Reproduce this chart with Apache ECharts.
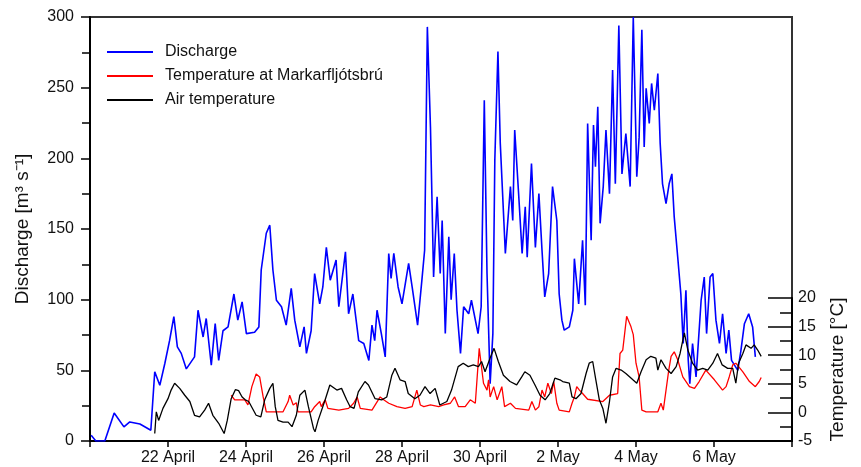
<!DOCTYPE html>
<html>
<head>
<meta charset="utf-8">
<script src="https://cdn.jsdelivr.net/npm/echarts@6/dist/echarts.min.js"></script>
<style>
  html, body { margin: 0; padding: 0; background: #fff; }
  #chart-container { width: 861px; height: 467px; }
</style>
</head>
<body>
<div id="chart-container"></div>
<script>
var dom = document.getElementById("chart-container");
var myChart = echarts.init(dom, null, { renderer: "canvas" });

// x values are days since 20 April 00:00
var dateLabels = ["", "22 April", "24 April", "26 April", "28 April", "30 April", "2 May", "4 May", "6 May", ""];

var qDays = [0.03, 0.15, 0.38, 0.62, 0.87, 1.02, 1.28, 1.56, 1.66, 1.79, 1.92, 2.04, 2.15, 2.24, 2.34, 2.47, 2.68, 2.77, 2.90, 2.98,
  3.11, 3.21, 3.30, 3.41, 3.54, 3.69, 3.79, 3.90, 4.01, 4.22, 4.33, 4.39, 4.52, 4.61, 4.69, 4.78, 4.91, 5.03, 5.16, 5.25,
  5.38, 5.49, 5.55, 5.67, 5.76, 5.89, 5.97, 6.06, 6.16, 6.31, 6.38, 6.55, 6.63, 6.74, 6.89, 7.02, 7.15, 7.23, 7.30, 7.36,
  7.47, 7.57, 7.66, 7.72, 7.79, 7.90, 8.00, 8.17, 8.26, 8.40, 8.51, 8.58, 8.65, 8.73, 8.81, 8.90, 8.98, 9.03, 9.11, 9.20,
  9.26, 9.34, 9.41, 9.50, 9.58, 9.71, 9.78, 9.95, 10.03, 10.11, 10.18, 10.26, 10.33, 10.38, 10.46, 10.52, 10.65, 10.78, 10.84, 10.89,
  10.99, 11.08, 11.16, 11.21, 11.32, 11.42, 11.51, 11.59, 11.66, 11.76, 11.86, 11.97, 12.03, 12.10, 12.16, 12.29, 12.38, 12.42, 12.53, 12.63,
  12.70, 12.76, 12.85, 12.91, 12.96, 13.02, 13.08, 13.16, 13.23, 13.32, 13.40, 13.47, 13.56, 13.64, 13.74, 13.85, 13.93, 14.02, 14.08, 14.15,
  14.21, 14.26, 14.34, 14.40, 14.47, 14.56, 14.62, 14.68, 14.77, 14.85, 14.92, 14.98, 15.07, 15.15, 15.21, 15.28, 15.34, 15.38, 15.45, 15.54,
  15.67, 15.75, 15.81, 15.90, 15.97, 16.05, 16.14, 16.22, 16.31, 16.38, 16.45, 16.61, 16.69, 16.78, 16.89, 16.99, 17.06];
var qValues = [4, 0, 0, 19.8, 10, 13.5, 12, 7.6, 49, 39.4, 55, 71, 88, 66.6, 62, 51, 59.5, 92.5, 73.6, 86.7,
  53.6, 83, 57, 78, 80.7, 104, 85.5, 98.4, 76, 77, 80.7, 121, 147, 152.7, 121, 99.6, 95, 82, 108, 85.5,
  66.6, 80.7, 62, 78, 118.5, 97, 109, 137, 113.8, 128, 95, 133.8, 90, 104, 71, 69, 57, 82, 71, 92.5,
  76, 59.5, 132.7, 115, 132.7, 109, 97, 125.6, 109, 82, 113.8, 135, 293, 222, 116, 172.8, 118.5, 156, 76, 144.5,
  100, 132.7, 92.5, 62, 95, 90, 99.6, 76, 95, 241, 118.5, 40.6, 76, 198.8, 275.5, 210.6, 132.7, 180, 156, 220,
  175, 132.7, 165.7, 130, 196.4, 137, 175, 135, 102, 118.5, 180, 156, 104, 85.5, 78.4, 80.7, 92.5, 129, 97, 142,
  96, 224.7, 142, 223.5, 194, 236.5, 154, 180, 220, 175, 262.5, 182, 294, 189, 217.6, 180, 300, 187, 215, 291,
  208, 249.5, 224.7, 253, 234, 260, 210.6, 182, 168, 182, 189, 158.6, 130, 104, 69, 106.7, 57, 40.6, 69, 45.3,
  99.6, 116, 76, 116, 118.5, 85.5, 69, 90, 62, 78.4, 57, 50, 64, 83, 90, 80.7, 59.5];

var waterDays = [3.62, 3.71, 3.97, 4.05, 4.15, 4.26, 4.35, 4.44, 4.52, 4.95, 5.08, 5.12, 5.21, 5.29, 5.33, 5.67, 5.76, 5.89, 5.93, 6.03,
  6.10, 6.38, 6.63, 6.76, 6.85, 6.93, 7.23, 7.44, 7.53, 7.66, 7.87, 8.08, 8.26, 8.38, 8.47, 8.56, 8.73, 8.94, 9.07, 9.24,
  9.35, 9.45, 9.62, 9.75, 9.88, 9.98, 10.03, 10.09, 10.18, 10.22, 10.26, 10.35, 10.44, 10.56, 10.63, 10.78, 10.91, 11.25, 11.33, 11.42,
  11.51, 11.59, 11.66, 11.74, 11.83, 11.89, 11.97, 12.03, 12.29, 12.36, 12.42, 12.48, 12.55, 12.63, 12.76, 13.15, 13.32, 13.53, 13.59, 13.66,
  13.76, 13.81, 13.87, 13.93, 14.00, 14.08, 14.15, 14.26, 14.56, 14.64, 14.70, 14.77, 14.84, 14.90, 14.98, 15.07, 15.20, 15.37, 15.50, 15.62,
  15.79, 16.01, 16.22, 16.31, 16.39, 16.48, 16.56, 16.74, 16.91, 17.06, 17.16, 17.21];
var waterTemp = [3.0, 2.2, 2.2, 1.3, 4.5, 6.7, 6.2, 2.7, 0.1, 0.1, 1.9, 3.0, 1.3, 1.7, 0.1, 0.1, 1.0, 1.9, 1.0, 2.2,
  0.7, 0.4, 0.7, 1.6, 2.7, 0.7, 0.4, 2.7, 2.2, 1.6, 1.0, 0.7, 1.0, 3.9, 1.3, 1.0, 1.3, 1.0, 1.3, 1.6,
  2.7, 1.0, 1.0, 2.2, 1.6, 11.2, 10.9, 5.1, 3.9, 5.7, 2.7, 4.5, 2.2, 4.5, 1.0, 1.6, 0.7, 0.4, 1.9, 0.4,
  1.0, 3.9, 2.7, 5.1, 3.3, 5.4, 1.6, 0.4, 0.1, 1.6, 2.7, 4.5, 3.9, 3.3, 2.3, 1.9, 3.0, 3.3, 10.3, 10.9,
  16.8, 17.1, 15.0, 13.6, 8.6, 6.2, 0.4, 0.1, 0.1, 1.6, 0.4, 3.9, 7.4, 9.8, 10.6, 9.2, 6.2, 4.5, 4.2, 5.4,
  7.4, 5.7, 3.9, 4.5, 6.2, 8.3, 8.6, 7.1, 5.4, 4.5, 5.4, 6.1];

var airDays = [1.66, 1.70, 1.76, 1.87, 2.00, 2.08, 2.17, 2.30, 2.43, 2.56, 2.68, 2.81, 2.94, 3.04, 3.15, 3.30, 3.44, 3.52, 3.62, 3.73,
  3.81, 3.90, 3.98, 4.07, 4.26, 4.38, 4.48, 4.61, 4.69, 4.75, 4.82, 4.95, 5.08, 5.18, 5.29, 5.38, 5.51, 5.60, 5.73, 5.77,
  5.85, 6.03, 6.15, 6.33, 6.45, 6.58, 6.67, 6.77, 6.88, 7.05, 7.14, 7.31, 7.48, 7.61, 7.74, 7.82, 7.95, 8.08, 8.16, 8.33,
  8.46, 8.59, 8.72, 8.85, 8.97, 9.15, 9.27, 9.44, 9.57, 9.70, 9.83, 9.96, 10.04, 10.13, 10.26, 10.36, 10.47, 10.60, 10.77, 10.94,
  11.07, 11.15, 11.28, 11.41, 11.54, 11.67, 11.79, 11.92, 12.05, 12.12, 12.29, 12.36, 12.46, 12.59, 12.72, 12.80, 12.89, 12.97, 13.06, 13.15,
  13.23, 13.32, 13.40, 13.49, 13.62, 13.74, 13.92, 14.02, 14.13, 14.26, 14.38, 14.51, 14.56, 14.64, 14.77, 14.90, 15.03, 15.13, 15.24, 15.33,
  15.45, 15.58, 15.71, 15.84, 15.97, 16.09, 16.21, 16.35, 16.48, 16.56, 16.63, 16.74, 16.82, 16.95, 17.03, 17.12, 17.21];
var airTemp = [-3.7, 0.1, -1.4, 0.7, 2.4, 3.9, 5.1, 4.2, 3.0, 1.9, -0.5, -0.8, 0.4, 1.6, -0.5, -1.9, -3.7, -1.4, 2.4, 4.0,
  3.8, 2.7, 2.2, 1.9, -0.5, -0.8, 2.2, 4.2, 5.1, 1.0, -1.4, -1.7, -1.7, -2.5, -0.5, 3.0, 3.9, 1.0, -2.8, -3.4,
  -1.4, 2.2, 4.8, 3.9, 4.2, 2.2, 1.0, 0.7, 3.6, 5.4, 4.8, 2.4, 2.2, 2.7, 6.5, 7.7, 5.7, 5.4, 3.3, 2.4,
  3.0, 4.5, 3.3, 4.2, 1.3, 1.9, 3.9, 8.0, 8.6, 8.0, 8.3, 8.0, 8.9, 7.1, 9.5, 11.2, 8.9, 6.5, 5.4, 4.8,
  6.2, 7.1, 6.5, 4.8, 3.0, 2.2, 3.3, 6.0, 5.7, 5.4, 5.1, 2.7, 2.4, 3.3, 6.8, 8.6, 8.9, 5.7, 2.2, 0.7,
  -1.9, 1.9, 6.2, 7.7, 7.4, 6.8, 5.7, 5.1, 7.1, 9.2, 9.8, 9.5, 7.4, 9.2, 7.7, 6.8, 8.0, 10.3, 13.9, 10.9,
  8.6, 7.4, 7.7, 7.4, 8.6, 10.3, 8.3, 7.7, 7.7, 5.1, 8.6, 10.3, 11.8, 11.2, 11.8, 10.9, 9.8];

function pairs(xs, ys) {
  return xs.map(function (x, i) { return [x, ys[i]]; });
}

var labelFont = "Liberation Sans, Arial, sans-serif";

var option = {
  animation: false,
  backgroundColor: "#fff",
  legend: {
    orient: "vertical",
    left: 107,
    top: 44,
    padding: 0,
    icon: "rect",
    itemWidth: 46,
    itemHeight: 2,
    itemGap: 8,
    textStyle: { fontFamily: labelFont, fontSize: 16, color: "#111", padding: [0, 0, 0, 7] },
    data: ["Discharge", "Temperature at Markarfljótsbrú", "Air temperature"],
  },
  grid: [
    { left: 90, right: 69, top: 17, bottom: 26, show: true, borderColor: "#333", borderWidth: 2, backgroundColor: "transparent" },
    { left: 90, right: 69, top: 298, bottom: 26 },
  ],
  xAxis: [
    {
      type: "value",
      gridIndex: 0,
      min: 0,
      max: 18,
      interval: 2,
      splitLine: { show: false },
      axisLine: { onZero: false, lineStyle: { color: "#000", width: 2 } },
      axisTick: { length: 6, lineStyle: { color: "#000", width: 1.5 } },
      axisLabel: {
        margin: 9,
        fontFamily: labelFont,
        fontSize: 16,
        color: "#111",
        formatter: function (v) { return dateLabels[Math.round(v / 2)] || ""; },
      },
    },
    { type: "value", gridIndex: 1, min: 0, max: 18, show: false, axisLine: { onZero: false } },
  ],
  yAxis: [
    {
      type: "value",
      gridIndex: 0,
      min: 0,
      max: 300,
      interval: 50,
      name: "Discharge [m³ s⁻¹]",
      nameLocation: "middle",
      nameGap: 58,
      nameTextStyle: { fontFamily: labelFont, fontSize: 19, color: "#111" },
      splitLine: { show: false },
      axisLine: { show: true, onZero: false, lineStyle: { color: "#000", width: 2 } },
      axisTick: { show: true, length: 9, lineStyle: { color: "#000", width: 1.5 } },
      minorTick: { show: true, splitNumber: 2, length: 8, lineStyle: { color: "#000", width: 1.5 } },
      axisLabel: { margin: 16, fontFamily: labelFont, fontSize: 16, color: "#111" },
    },
    {
      type: "value",
      gridIndex: 1,
      position: "right",
      min: -5,
      max: 20,
      interval: 5,
      name: "Temperature [°C]",
      nameLocation: "middle",
      nameGap: 36,
      nameRotate: 90,
      nameTextStyle: { fontFamily: labelFont, fontSize: 19, color: "#111" },
      splitLine: { show: false },
      axisLine: { show: true, onZero: false, lineStyle: { color: "#000", width: 2 } },
      axisTick: { show: true, inside: true, length: 24, lineStyle: { color: "#000", width: 1.5 } },
      minorTick: { show: true, splitNumber: 2, length: 12, lineStyle: { color: "#000", width: 1.5 } },
      axisLabel: { margin: 6, fontFamily: labelFont, fontSize: 16, color: "#111" },
    },
  ],
  series: [
    {
      name: "Discharge",
      type: "line",
      xAxisIndex: 0,
      yAxisIndex: 0,
      symbol: "none",
      lineStyle: { color: "#0000ff", width: 1.6 },
      itemStyle: { color: "#0000ff" },
      data: pairs(qDays, qValues),
      z: 2,
    },
    {
      name: "Temperature at Markarfljótsbrú",
      type: "line",
      xAxisIndex: 1,
      yAxisIndex: 1,
      symbol: "none",
      lineStyle: { color: "#ff0000", width: 1.3 },
      itemStyle: { color: "#ff0000" },
      data: pairs(waterDays, waterTemp),
      z: 3,
    },
    {
      name: "Air temperature",
      type: "line",
      xAxisIndex: 1,
      yAxisIndex: 1,
      symbol: "none",
      lineStyle: { color: "#000", width: 1.3 },
      itemStyle: { color: "#000" },
      data: pairs(airDays, airTemp),
      z: 4,
    },
  ],
};

myChart.setOption(option);

window.addEventListener("resize", function () {
  myChart.resize();
});
</script>
</body>
</html>
